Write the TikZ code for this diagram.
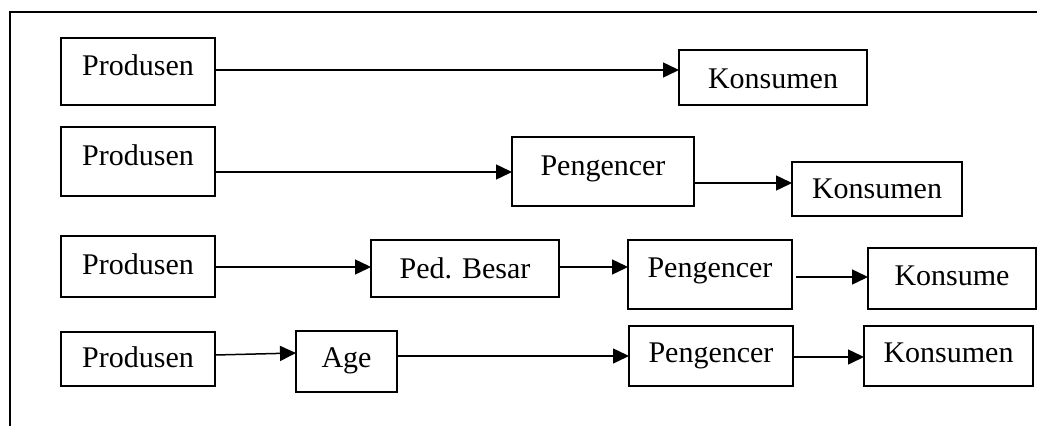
\documentclass[tikz,border=0pt]{standalone}
\usepackage{fontspec}
\setmainfont{Liberation Serif}
\usetikzlibrary{arrows.meta}
\newcommand\bltxt[2]{\raisebox{-#1pt}{#2}}
\tikzset{
  box/.style={draw, line width=1.5pt, rectangle, anchor=north west, inner sep=0pt, outer sep=0pt,
    text height=0pt, text depth=0pt, font=\fontsize{30}{30}\selectfont},
  arr/.style={line width=1.5pt, -{Triangle[length=16pt,width=15pt]}},
  frame/.style={line width=1.5pt}
}
\begin{document}
\begin{tikzpicture}[x=1pt,y=-1pt]
\useasboundingbox (0,0) rectangle (1037,426);
% frame
\coordinate (fa) at (10,426);
\coordinate (fb) at (10,12);
\coordinate (fc) at (1037,12);
\draw[frame] (fa) -- (fb) -- (fc);
% row 1
\node[box, minimum width=154pt, minimum height=67pt] (p1) at (61,38) {\bltxt{3.5}{Produsen}};
\node[box, minimum width=188pt, minimum height=55pt] (k1) at (679,50) {\bltxt{10.5}{Konsumen}};
% row 2
\node[box, minimum width=154pt, minimum height=69pt] (p2) at (61,127) {\bltxt{3.5}{Produsen}};
\node[box, minimum width=182pt, minimum height=69pt] (g2) at (512,137) {\bltxt{3.5}{Pengencer}};
\node[box, minimum width=170pt, minimum height=54pt] (k2) at (792,162) {\bltxt{9}{Konsumen}};
% row 3
\node[box, minimum width=154pt, minimum height=61pt] (p3) at (61,236) {\bltxt{7.5}{Produsen}};
\node[box, minimum width=188pt, minimum height=57pt] (b3) at (371,240) {\bltxt{9.5}{Ped. Besar}};
\node[box, minimum width=164pt, minimum height=69pt] (g3) at (628,240) {\bltxt{2.5}{Pengencer}};
\node[box, minimum width=168pt, minimum height=61pt] (k3) at (868,248) {\bltxt{7}{Konsume}};
% row 4
\node[box, minimum width=154pt, minimum height=54pt] (p4) at (61,332) {\bltxt{8.7}{Produsen}};
\node[box, minimum width=101pt, minimum height=61pt] (a4) at (296,331) {\bltxt{6}{Age}};
\node[box, minimum width=164pt, minimum height=60pt] (g4) at (629,326) {\bltxt{6.7}{Pengencer}};
\node[box, minimum width=169pt, minimum height=60pt] (k4) at (864,326) {\bltxt{6.7}{Konsumen}};
% arrow levels
\coordinate (r1) at (0,70);
\coordinate (r2) at (0,172);
\coordinate (r3) at (0,183);
\coordinate (r4) at (0,267);
\coordinate (r6) at (0,277);
\coordinate (r7a) at (0,355);
\coordinate (r7b) at (0,353);
\coordinate (r8) at (0,356);
\coordinate (r9) at (0,357);
% arrows
\draw[arr] (p1.east |- r1) -- (k1.west |- r1);
\draw[arr] (p2.east |- r2) -- (g2.west |- r2);
\draw[arr] (g2.east |- r3) -- (k2.west |- r3);
\draw[arr] (p3.east |- r4) -- (b3.west |- r4);
\draw[arr] (b3.east |- r4) -- (g3.west |- r4);
\draw[arr, shorten <=4pt] (g3.east |- r6) -- (k3.west |- r6);
\draw[arr] (p4.east |- r7a) -- (a4.west |- r7b);
\draw[arr] (a4.east |- r8) -- (g4.west |- r8);
\draw[arr] (g4.east |- r9) -- (k4.west |- r9);
\end{tikzpicture}
\end{document}
